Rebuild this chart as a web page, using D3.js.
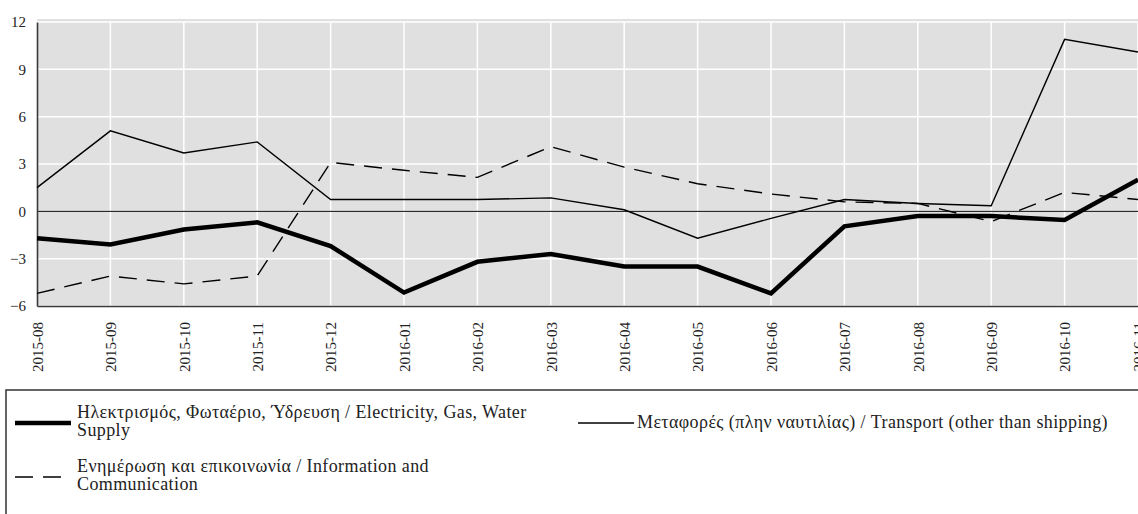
<!DOCTYPE html>
<html>
<head>
<meta charset="utf-8">
<script src="https://cdn.jsdelivr.net/npm/d3@7"></script>
<style>
  body { margin: 0; background: #fff; }
  svg { display: block; }
  svg text { font-family: "Liberation Serif", "Times New Roman", serif; }
</style>
</head>
<body>
<div id="chart"></div>
<script>
const months = ["2015-08", "2015-09", "2015-10", "2015-11", "2015-12", "2016-01",
  "2016-02", "2016-03", "2016-04", "2016-05", "2016-06", "2016-07", "2016-08",
  "2016-09", "2016-10", "2016-11"];

const electricity = [-1.7, -2.1, -1.15, -0.7, -2.2, -5.15, -3.2, -2.7, -3.5, -3.5,
  -5.2, -0.95, -0.3, -0.3, -0.55, 2.0];
const information = [-5.2, -4.1, -4.6, -4.1, 3.1, 2.6, 2.15, 4.1, 2.8, 1.75,
  1.1, 0.6, 0.5, -0.65, 1.2, 0.75];
const transport = [1.5, 5.1, 3.7, 4.4, 0.75, 0.75, 0.75, 0.85, 0.1, -1.7,
  -0.45, 0.75, 0.5, 0.35, 10.9, 10.1];

const yTicks = [-6, -3, 0, 3, 6, 9, 12];

const seriesNames = [
  ["Ηλεκτρισμός, Φωταέριο, Ύδρευση / Electricity, Gas, Water", "Supply"],
  ["Ενημέρωση και επικοινωνία / Information and", "Communication"],
  ["Μεταφορές (πλην ναυτιλίας) / Transport (other than shipping)"]
];

const width = 1138;
const height = 514;
const plotLeft = 37, plotRight = 1138, plotTop = 22, plotBottom = 306;
const serif = '"Liberation Serif", "Times New Roman", serif';

const series = [
  { name: seriesNames[0], values: electricity, width: 4.5, dash: null },
  { name: seriesNames[1], values: information, width: 1.4, dash: "18,10" },
  { name: seriesNames[2], values: transport, width: 1.4, dash: null }
];

const svg = d3.select("#chart").append("svg")
  .attr("width", width)
  .attr("height", height);

const x = d3.scalePoint().domain(months).range([plotLeft, plotRight]);
const y = d3.scaleLinear().domain([-6, 12]).range([plotBottom, plotTop]);

// plot background
svg.append("rect")
  .attr("x", plotLeft)
  .attr("y", plotTop - 3)
  .attr("width", plotRight - plotLeft)
  .attr("height", plotBottom - plotTop + 3)
  .attr("fill", "#e0e0e0");

// grid
svg.append("g")
  .selectAll("line")
  .data(yTicks)
  .join("line")
  .attr("x1", plotLeft).attr("x2", plotRight)
  .attr("y1", (d) => y(d)).attr("y2", (d) => y(d))
  .attr("stroke", "#fff")
  .attr("stroke-width", 1.5);

svg.append("g")
  .selectAll("line")
  .data(months)
  .join("line")
  .attr("x1", (d) => x(d)).attr("x2", (d) => x(d))
  .attr("y1", plotTop).attr("y2", plotBottom)
  .attr("stroke", "#fff")
  .attr("stroke-width", 1.5);

// zero line
svg.append("line")
  .attr("x1", plotLeft).attr("x2", plotRight)
  .attr("y1", y(0)).attr("y2", y(0))
  .attr("stroke", "#000")
  .attr("stroke-width", 1);

// axes
const yAxis = svg.append("g")
  .attr("transform", `translate(${plotLeft},0)`)
  .call(d3.axisLeft(y).tickValues(yTicks).tickSize(0).tickPadding(11));
yAxis.select(".domain").attr("stroke", "#3a3a3a").attr("stroke-width", 1.6);
yAxis.selectAll("text")
  .style("font-family", serif)
  .style("font-size", "15px")
  .attr("fill", "#222");

const xAxis = svg.append("g")
  .attr("transform", `translate(0,${plotBottom})`)
  .call(d3.axisBottom(x).tickSize(0).tickPadding(0));
xAxis.select(".domain").attr("stroke", "#3a3a3a").attr("stroke-width", 1.6);
xAxis.selectAll("text")
  .style("font-family", serif)
  .style("font-size", "15px")
  .attr("fill", "#222")
  .attr("text-anchor", "end")
  .attr("dy", "0.35em")
  .attr("y", 0)
  .attr("transform", "translate(0,16) rotate(-90)");

// series
const line = d3.line()
  .x((d, i) => x(months[i]))
  .y((d) => y(d));

svg.append("g")
  .selectAll("path")
  .data(series)
  .join("path")
  .attr("d", (d) => line(d.values))
  .attr("fill", "none")
  .attr("stroke", "#000")
  .attr("stroke-width", (d) => d.width)
  .attr("stroke-dasharray", (d) => d.dash)
  .attr("stroke-linejoin", "miter");

// legend
const legend = svg.append("g");
legend.append("rect")
  .attr("x", 6)
  .attr("y", 390)
  .attr("width", 1150)
  .attr("height", 150)
  .attr("fill", "none")
  .attr("stroke", "#333")
  .attr("stroke-width", 1.5);

const legendPos = [
  { lx: 15, ly: 423, tx: 77, ty: 418 },
  { lx: 15, ly: 477, tx: 77, ty: 472 },
  { lx: 578, ly: 423, tx: 637, ty: 428 }
];

series.forEach((s, i) => {
  const p = legendPos[i];
  legend.append("line")
    .attr("x1", p.lx).attr("x2", p.lx + 56)
    .attr("y1", p.ly).attr("y2", p.ly)
    .attr("stroke", "#000")
    .attr("stroke-width", s.width)
    .attr("stroke-dasharray", s.dash);
  const t = legend.append("text")
    .attr("x", p.tx)
    .attr("y", p.ty)
    .style("font-family", serif)
    .style("font-size", "18px")
    .style("letter-spacing", "0.4px")
    .attr("fill", "#222");
  s.name.forEach((ln, j) => {
    t.append("tspan")
      .attr("x", p.tx)
      .attr("dy", j === 0 ? 0 : 18)
      .text(ln);
  });
});
</script>
</body>
</html>
